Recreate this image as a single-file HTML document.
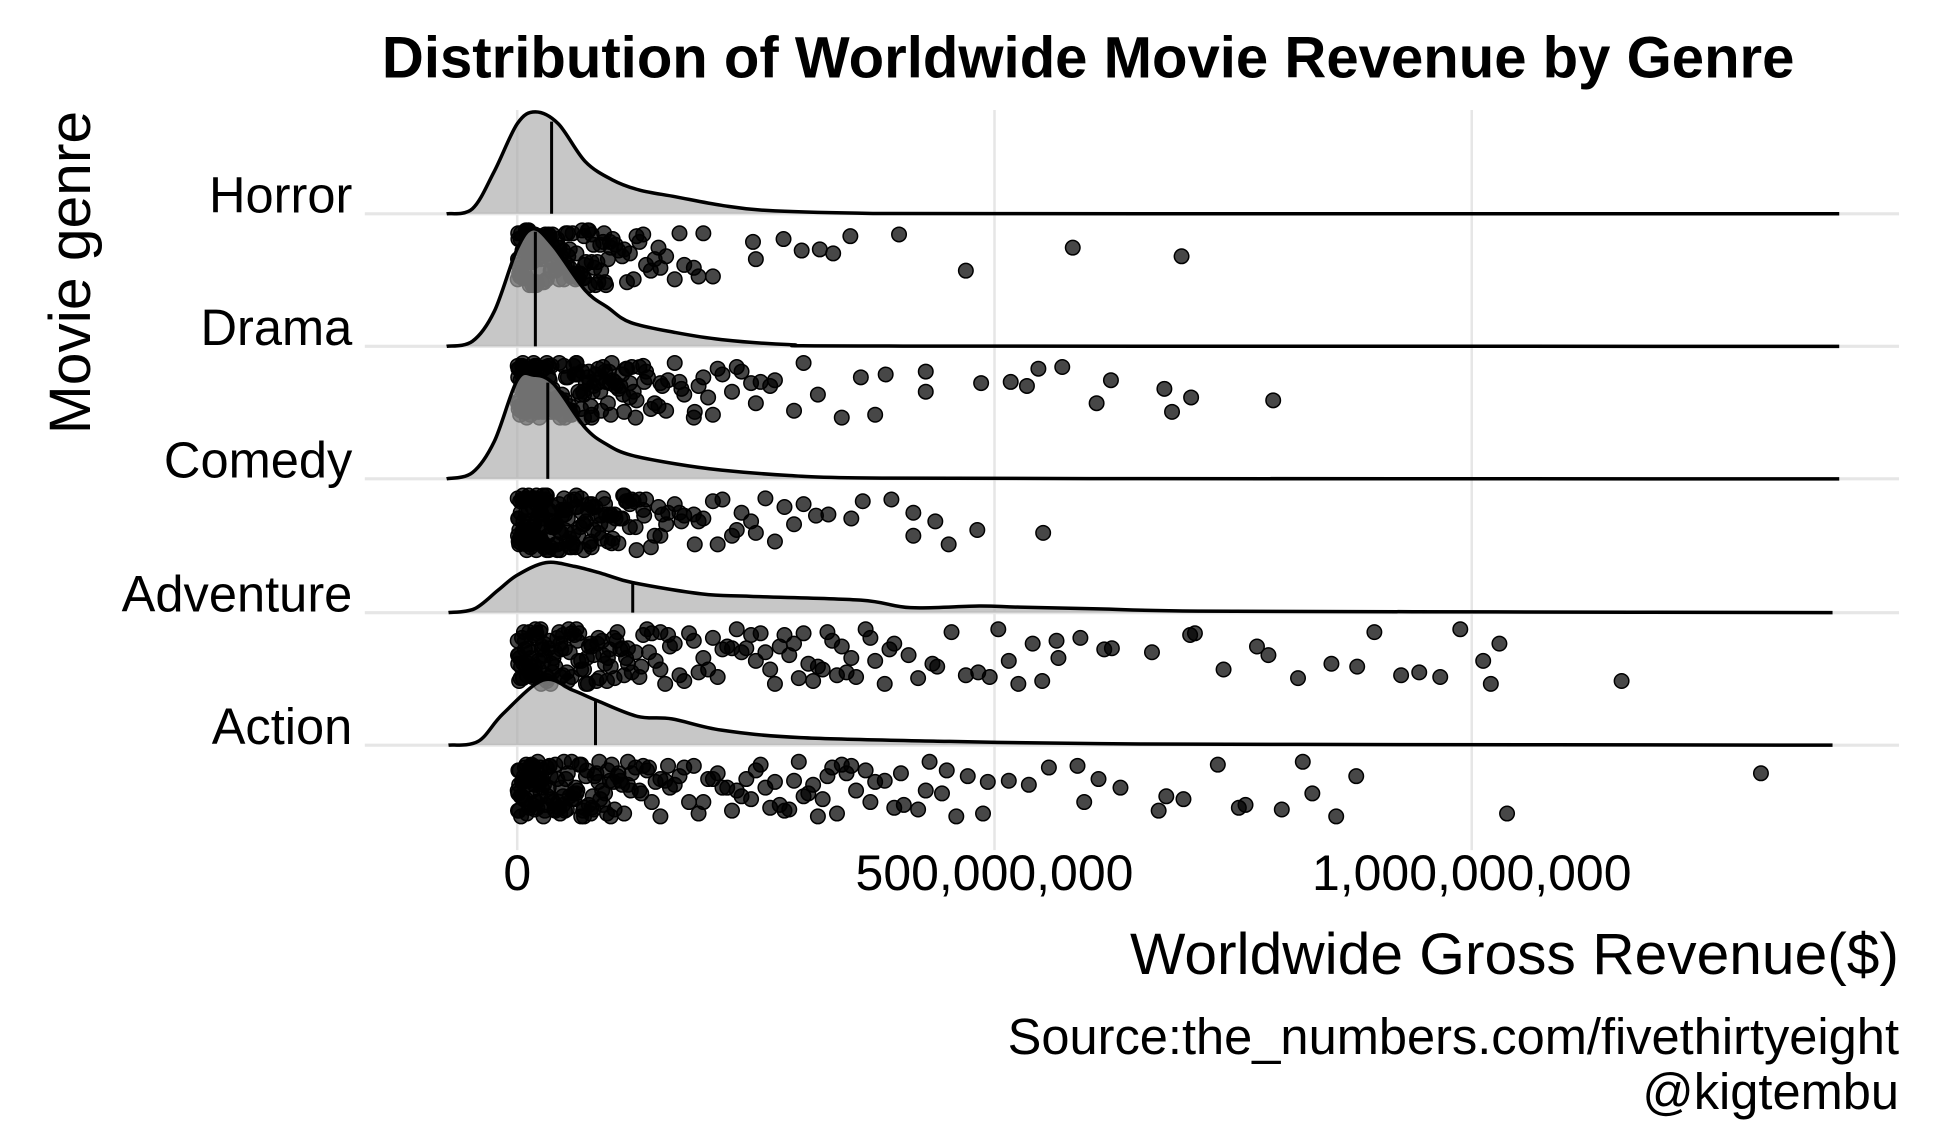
<!DOCTYPE html>
<html><head><meta charset="utf-8"><style>
html,body{margin:0;padding:0;background:#fff;}
svg{display:block;font-family:"Liberation Sans",Arial,sans-serif;}
</style></head><body>
<svg id="chart" width="1934" height="1134" viewBox="0 0 1548 907" preserveAspectRatio="none" xmlns="http://www.w3.org/2000/svg">
<rect width="1548" height="907" fill="#fff"/>
<text x="871" y="62" font-size="46.5" font-weight="bold" text-anchor="middle">Distribution of Worldwide Movie Revenue by Genre</text>
<text transform="translate(72,218) rotate(-90)" font-size="47" text-anchor="middle">Movie genre</text>
<text x="1520" y="779" font-size="47" text-anchor="end">Worldwide Gross Revenue($)</text>
<text x="1520" y="843" font-size="40.5" text-anchor="end">Source:the_numbers.com/fivethirtyeight</text>
<text x="1520" y="887" font-size="40.5" text-anchor="end">@kigtembu</text>
<g id="grid"></g><g id="pts"></g><g id="dens"></g><g id="labels"></g>
</svg>
<script>
const genres = ["Horror","Drama","Comedy","Adventure","Action"];
const xTicks = [0, 500, 1000];
const xTickLabels = ["0","500,000,000","1,000,000,000"];
// density curves: x in millions, heights in relative units
const densHorrorX = [-74,-47,-24,0,19,43,71,100,128,166,214,261,356,500,1385];
const densHorrorY = [0,4,34,72,81.5,72,42,27,19,13.6,6.8,2.7,0.5,0.1,0];
const densDramaX = [-74,-47,-24,0,17,38,71,95,119,166,214,285,404,1385];
const densDramaY = [0,4,28,78,94,80,45,31,19,11,5.4,1.4,0.2,0];
const densComedyX = [-74,-47,-24,0,17,38,71,95,119,166,214,285,356,600,1385];
const densComedyY = [0,5,30,79,83,76,41,27,19,12,7,2.7,0.8,0.2,0];
const densAdventureX = [-72,-45,-20,0,30,60,90,121,193,245,360,412,484,526,609,713,1025,1378];
const densAdventureY = [0,3,18,30,40,37,31,24,15,13,10,4,5.3,4.4,3,1.2,0.6,0];
const densActionX = [-72,-41,-15,27,58,84,126,162,214,297,453,609,817,1378];
const densActionY = [0,3,25,52,44,35.5,23,21,12,6,3,1.2,0.6,0];
const medians = [36, 19, 32, 121, 82];
// revenue values (millions) per genre
const horrorVals = [1,3,5,7,9,11,13,15,17,19,21,23,25,27,29,31,33,35,38,41,44,47,50,53,56,60,64,68,72,76,80,85,90,95,100,106,112,118,125,132,140,148,156,165,175,185,195,205,2,6,10,14,18,22,26,30,36,42,48,55,62,70,78,88,98,110,122,135,150,170,190,4,8,12,16,20,24,28,247,250,279,298,317,331,349,400,470,582,696];
const horrorDense = [0.5,1.5,2.5,4,6,8,10,12,14,16,18,20,22,24,26,28,30,32,34,37,40,43,46,49,52,55,58,62,66,70,74,78,82,87,92,97,0.8,3.5,6.5,9.5,12.5,15.5,18.5,21.5,24.5,27.5,31,39,45,51,57,63,69,75,84,93,103,115,128,144,1.2,5.5,11.5,17.5,23.5,29.5,36.5,44.5,53.5,61,71,81,91];
const dramaVals = [1,3,5,7,9,11,13,15,17,19,21,23,25,27,29,31,33,35,38,41,44,47,50,53,56,60,64,68,72,76,80,85,90,95,100,106,112,118,125,132,140,148,156,165,175,185,195,205,215,225,235,245,255,265,2,6,10,14,18,22,26,30,36,42,48,55,62,70,78,88,98,110,122,135,150,170,190,210,230,250,270,4,8,12,16,20,24,28,290,300,315,340,360,375,386,428,428,486,517,534,546,571,607,622,678,686,706,792];
const dramaDense = [0.5,1.5,2.5,4,6,8,10,12,14,16,18,20,22,24,26,28,30,32,34,37,40,43,46,49,52,55,58,62,66,70,74,78,82,87,92,97,102,108,114,120,0.8,3.5,6.5,9.5,12.5,15.5,18.5,21.5,24.5,27.5,31,39,45,51,57,63,69,75,84,93,103,115,128,144,158,172,186,200,2.2,5.2,8.2,11.2,14.2,17.2,20.2,23.2,33,47,61,79,96,118,133,152,1.2,7,13,19,25,35.5,42,50,59,67,77,88,99,111,124,137];
const comedyVals = [1,3,5,7,9,11,13,15,17,19,21,23,25,27,29,31,33,35,38,41,44,47,50,53,56,60,64,68,72,76,80,85,90,95,100,106,112,118,125,132,140,148,156,165,175,185,195,205,215,225,235,245,2,6,10,14,18,22,26,30,36,42,48,55,62,70,78,88,98,110,122,135,150,170,190,210,230,250,260,270,4,8,12,16,20,24,28,280,290,300,313,326,350,362,392,415,415,438,452,482,551];
const comedyDense = [0.5,1.5,2.5,4,6,8,10,12,14,16,18,20,22,24,26,28,30,32,34,37,40,43,46,49,52,55,58,62,66,70,74,78,82,87,92,97,102,108,114,120,0.8,3.5,6.5,9.5,12.5,15.5,18.5,21.5,24.5,27.5,31,39,45,51,57,63,69,75,84,93,103,115,128,144,158,172,186,2.2,5.2,8.2,11.2,14.2,17.2,20.2,23.2,33,47,61,79,96,118,133,152,1.2,7,13,19,25,35.5,42,50,59,67,77,88,99,111,124];
const adventureVals = [1,4,7,10,13,16,19,22,25,28,31,34,38,42,46,50,55,60,65,70,75,80,86,92,98,105,112,120,128,136,145,155,165,175,185,195,205,215,225,235,245,255,265,275,285,295,305,315,325,335,345,355,365,375,385,395,2,8,14,20,26,33,40,48,57,67,78,90,102,116,130,150,170,190,210,230,250,270,290,310,330,350,370,390,240,260,280,300,320,340,410,420,435,440,455,470,483,495,504,515,525,540,550,565,567,590,615,623,665,705,710,740,775,787,818,853,880,898,926,945,967,988,1012,1020,1029,1157];
const adventureDense = [0.5,2.5,5,8,11,14,17,20,23,26,29,32,36,40,44,48,52,57,62,67,72,77,83,89,95,101,108,116,124,132,141,150,160,0.8,3.5,6.5,9.5,12.5,15.5,18.5,21.5,24.5,27.5,35,45,53,63,73,85,97,110,138,158,180,200,220,1.5,6,12,18,24,30,37,46,54,64,74,84,94,104,114];
const actionVals = [1,4,7,10,13,16,19,22,25,28,31,34,38,42,46,50,55,60,65,70,75,80,86,92,98,105,112,120,128,136,145,155,165,175,185,195,205,215,225,235,245,255,265,275,285,295,305,315,325,335,345,355,365,375,385,2,8,14,20,26,33,40,48,57,67,78,90,102,116,130,150,170,190,210,230,250,270,290,310,330,350,370,240,260,280,300,320,340,395,405,420,432,445,460,472,488,402,428,450,493,515,536,557,587,594,609,632,672,680,698,734,756,763,801,823,833,858,879,1037,1303];
const actionDense = [0.5,2.5,5,8,11,14,17,20,23,26,29,32,36,40,44,48,52,57,62,67,72,77,83,89,95,101,108,116,124,132,141,150,160,0.8,3.5,6.5,9.5,12.5,15.5,18.5,21.5,24.5,27.5,35,45,53,63,73,85,97,110,138,158,180,200,220,1.8,4.8,9,15,21,30,39,49,59,70,81,94,106,119,1.2,6.2,12.2,18.2,24.2,34,43,51,61,69,79,87,99];
// jitter pattern (fraction of band)
const jitterPattern = [0.1,0.55,0.9,0.3,0.75,0.05,0.45,0.85,0.2,0.65,0.95,0.35,0.6,0.15,0.8,0.4,0.7,0.25,0.5,1.0,0.12,0.88,0.38];

const NS = "http://www.w3.org/2000/svg";
const baselines = [171,277,383,490,596];
const x = v => 414 + v * 0.764;
function mk(tag, attrs, parent){const e=document.createElementNS(NS,tag);for(const k in attrs)e.setAttribute(k,attrs[k]);parent.appendChild(e);return e;}
const grid = document.getElementById('grid'), pts = document.getElementById('pts'), dens = document.getElementById('dens'), labels = document.getElementById('labels');

xTicks.forEach((t,i)=>{
  const l = mk('line',{x1:x(t),x2:x(t),y1:88,y2:680,stroke:'#e6e6e6','stroke-width':2},grid);
  
  
  const tx = mk('text',{x:x(t),y:712,'font-size':40,'text-anchor':'middle'},labels);
  tx.textContent = xTickLabels[i];
  
  
});
genres.forEach((g,i)=>{
  const l = mk('line',{x1:292,x2:1520,y1:baselines[i],y2:baselines[i],stroke:'#e6e6e6','stroke-width':2.5},grid);
  
  
  const tx = mk('text',{x:282,y:baselines[i]-1,'font-size':40.5,'text-anchor':'end'},labels);
  tx.textContent = g;
  
  
});

const allVals = [horrorVals.concat(horrorDense),dramaVals.concat(dramaDense),comedyVals.concat(comedyDense),adventureVals.concat(adventureDense),actionVals.concat(actionDense)];
allVals.forEach((vals,gi)=>{
  vals.forEach((v,k)=>{
    const j = jitterPattern[(k*7+gi*3) % jitterPattern.length];
    const c = mk('circle',{cx:x(v),cy:baselines[gi]+11+j*46,r:5.8,fill:'rgba(0,0,0,0.72)',stroke:'#000','stroke-width':1.2},pts);
    
    
  });
});

const densX = [densHorrorX,densDramaX,densComedyX,densAdventureX,densActionX];
const densY = [densHorrorY,densDramaY,densComedyY,densAdventureY,densActionY];
function smoothPath(P){
  let d = `M${P[0][0]},${P[0][1]}`;
  for(let i=0;i<P.length-1;i++){
    const p0=P[Math.max(0,i-1)],p1=P[i],p2=P[i+1],p3=P[Math.min(P.length-1,i+2)];
    const c1=[p1[0]+(p2[0]-p0[0])/6,p1[1]+(p2[1]-p0[1])/6];
    const c2=[p2[0]-(p3[0]-p1[0])/6,p2[1]-(p3[1]-p1[1])/6];
    d+=` C${c1[0]},${c1[1]} ${c2[0]},${c2[1]} ${p2[0]},${p2[1]}`;
  }
  return d;
}
function interp(xs,ys,v){for(let i=0;i<xs.length-1;i++){if(v>=xs[i]&&v<=xs[i+1]){const t=(v-xs[i])/(xs[i+1]-xs[i]);return ys[i]+t*(ys[i+1]-ys[i]);}}return 0;}
genres.forEach((g,gi)=>{
  const b = baselines[gi];
  const P = densX[gi].map((v,k)=>[x(v), b - densY[gi][k]]);
  const line = smoothPath(P);
  const area = mk('path',{d: line + ` L${P[P.length-1][0]},${b} L${P[0][0]},${b} Z`, fill:'rgba(170,170,170,0.66)', stroke:'none'},dens);
  
  
  const outline = mk('path',{d: line, fill:'none', stroke:'#000','stroke-width':2.8},dens);
  
  
  const hm = interp(densX[gi],densY[gi],medians[gi]);
  const m = mk('line',{x1:x(medians[gi]),x2:x(medians[gi]),y1:b,y2:b-hm+1,stroke:'#000','stroke-width':2.4},dens);
  
  
});
</script>
</body></html>
